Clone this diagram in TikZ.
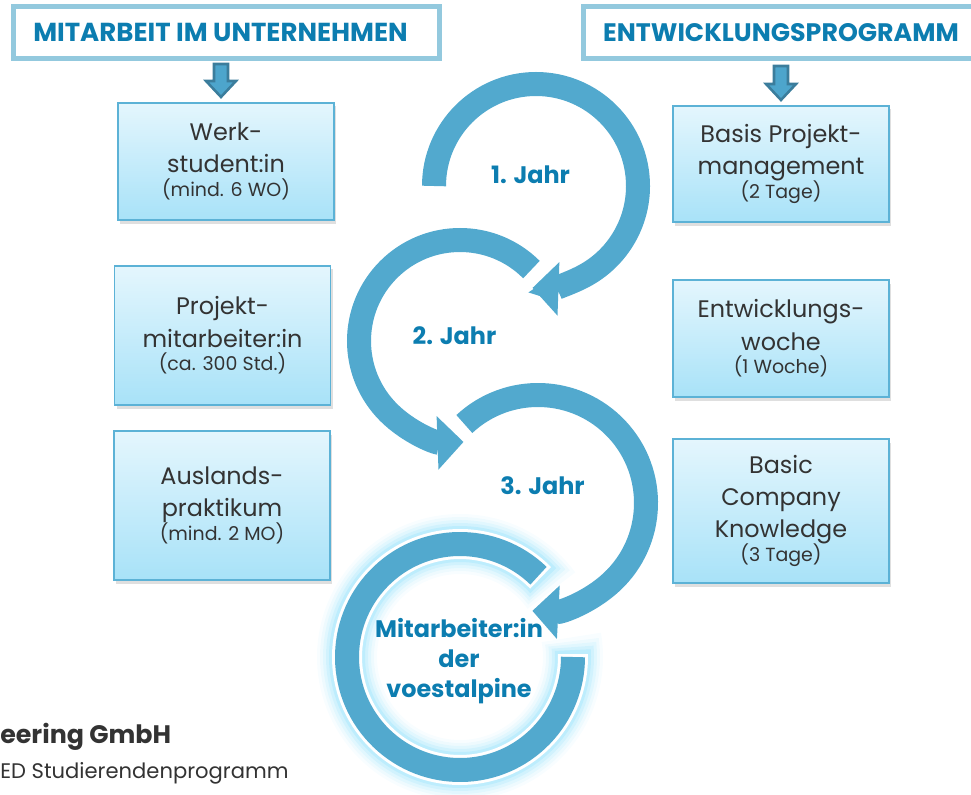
\documentclass[tikz,border=0pt]{standalone}
\usepackage{fontspec}
\setmainfont{Poppins}
\usetikzlibrary{arrows.meta,shadows}
\definecolor{ringblue}{HTML}{52A9CE}
\definecolor{headblue}{HTML}{0C7DB0}
\definecolor{frameblue}{HTML}{93C9DE}
\definecolor{boxline}{HTML}{5CB2D6}
\definecolor{boxtop}{HTML}{E4F6FD}
\definecolor{boxbottom}{HTML}{A8E2F8}
\definecolor{arrowdark}{HTML}{3B7D9C}
\definecolor{arrowlight}{HTML}{4DA5CC}
\definecolor{glowcyan}{HTML}{A6E6FC}
\definecolor{textgray}{HTML}{333333}
\newcommand\sub[1]{{\fontsize{13.5}{16}\selectfont #1}}

\begin{document}
\begin{tikzpicture}[x=0.025cm,y=-0.025cm,
  header/.style={draw=frameblue,line width=3.5pt,fill=white,minimum height=1.3cm,inner sep=0pt,font=\fontsize{18}{20}\selectfont\bfseries,text=headblue},
  stage/.style={draw=boxline,line width=0.9pt,top color=boxtop,bottom color=boxbottom,minimum width=5.4cm,align=center,text=textgray,font=\fontsize{17}{23}\selectfont,drop shadow={opacity=0.25,shadow xshift=1.5pt,shadow yshift=-2.5pt}},
  year/.style={text=headblue,font=\fontsize{17}{21.5}\selectfont\bfseries,align=center},
  ring/.style={draw=ringblue,line width=0.6cm},
  ringarrow/.style={ring,-{Triangle[width=1.3cm,length=0.65cm]}},
  downarrow/.style={fill=arrowlight,draw=arrowdark,line width=1.8pt,line join=miter},
  foot/.style={anchor=base west,inner sep=0pt,text=textgray}]

  \useasboundingbox (0,0) rectangle (971,794);
  \clip (0,0) rectangle (971,794);

  \node[header,minimum width=10.65cm,font=\fontsize{18.5}{20}\selectfont\bfseries] (hdrL) at (226.5,32.5) {MITARBEIT IM UNTERNEHMEN\hspace*{0.3cm}};
  \node[header,minimum width=9.875cm] (hdrR) at (781,32.5) {ENTWICKLUNGSPROGRAMM};

  \draw[downarrow] (214,64) -- (228,64) -- (228,81) -- (236,81) -- (221,97) -- (206,81) -- (214,81) -- cycle;
  \draw[downarrow] (774,66) -- (788,66) -- (788,84) -- (796,84) -- (781,100) -- (766,84) -- (774,84) -- cycle;

  \node[stage,minimum height=2.925cm] (werk) at (226,161.5) {Werk-\\student:in\\[-6pt]\sub{(mind. 6 WO)}};
  \node[stage,minimum height=3.475cm] (projekt) at (222.5,335.5) {Projekt-\\mitarbeiter:in\\[-6pt]\sub{(ca. 300 Std.)}};
  \node[stage,minimum height=3.725cm] (ausland) at (222,505.5) {Auslands-\\praktikum\\[-6pt]\sub{(mind. 2 MO)}};
  \node[stage,minimum height=2.9cm] (basis) at (781,164) {Basis Projekt-\\management\\[-6pt]\sub{(2 Tage)}};
  \node[stage,minimum height=2.925cm] (woche) at (781,338.5) {Entwicklungs-\\woche\\[-6pt]\sub{(1 Woche)}};
  \node[stage,minimum height=3.6cm] (company) at (781,511) {Basic\\Company\\Knowledge\\[-6pt]\sub{(3 Tage)}};

  \coordinate (c1) at (536,186);
  \coordinate (c2) at (460,341);
  \coordinate (c3) at (538,503);
  \coordinate (c4) at (460,657);

  \foreach \w/\o/\e in {60/0.08/10, 54/0.12/8, 48/0.18/6.5, 42/0.28/5, 36/0.45/3.5}
    \draw[glowcyan,line width=\w*0.025cm,opacity=\o] (c4) ++(314+\e:113) arc[start angle=314+\e,end angle=-\e,radius=113];
  \draw[white,line width=0.75cm] (c4) ++(315.5:113) arc[start angle=315.5,end angle=-1.5,radius=113];
  \draw[ring] (c4) ++(314:113) arc[start angle=314,end angle=0,radius=113];

  \draw[ringarrow] (c1) ++(180:102) arc[start angle=180,end angle=452,radius=102];
  \draw[ringarrow] (c2) ++(315:101) arc[start angle=315,end angle=88,radius=101];
  \draw[ringarrow] (c3) ++(227:108) arc[start angle=227,end angle=453,radius=108];

  \node[year] (jahr1) at (530.5,175) {1. Jahr};
  \node[year] (jahr2) at (454.5,336) {2. Jahr};
  \node[year] (jahr3) at (542.5,486) {3. Jahr};
  \node[year] (ziel) at (459,661) {Mitarbeiter:in\\der\\voestalpine};

  \node[foot,font=\fontsize{18}{20}\selectfont\bfseries] (firma) at (0,743) {eering GmbH};
  \node[foot,font=\fontsize{15}{18}\selectfont] (programm) at (0,778) {ED Studierendenprogramm};
\end{tikzpicture}
\end{document}
